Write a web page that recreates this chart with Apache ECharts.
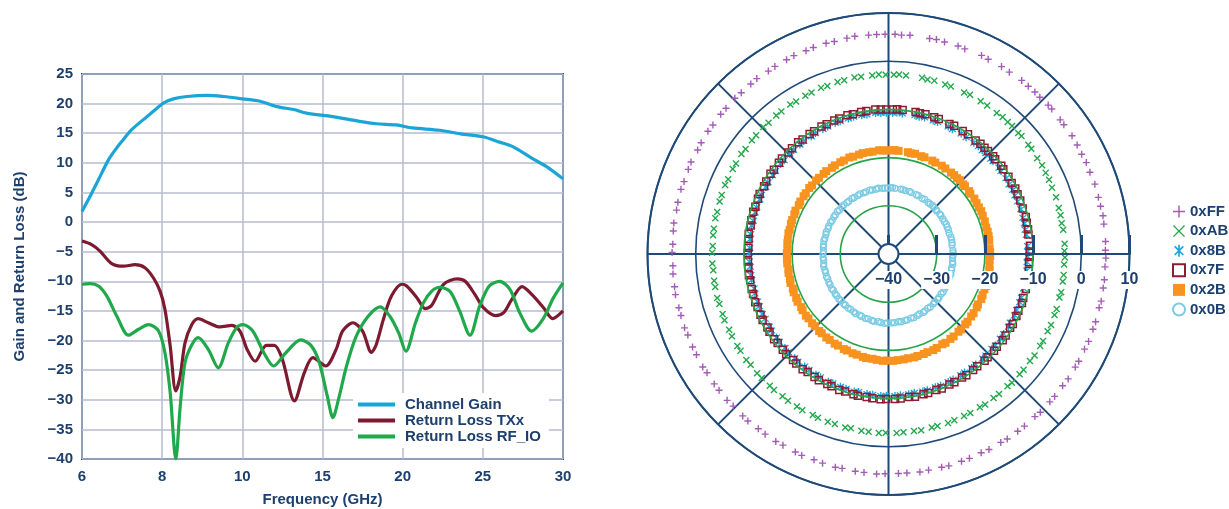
<!DOCTYPE html>
<html><head><meta charset="utf-8">
<script src="https://cdn.jsdelivr.net/npm/echarts@6/dist/echarts.min.js"></script>
<style>html,body{margin:0;padding:0;background:#fff}#c{width:1229px;height:509px}</style>
</head><body><div id="c"></div>
<script>
// ---- Left chart data ----
const xTickFreqs = [6, 8, 10, 15, 20, 25, 30];
const xTickLabels = ['6', '8', '10', '15', '20', '25', '30'];
const lineNames = ['Channel Gain', 'Return Loss TXx', 'Return Loss RF_IO'];

const gainFreq = [6.0,6.16,6.37,6.66,6.83,6.99,7.24,7.53,7.78,8.03,8.28,8.62,9.12,9.53,10.03,11.1,12.15,13.2,14.0,15.65,17.3,18.35,19.6,20.6,22.3,23.6,25.0,26.05,26.9,28.1,28.95,30.0];
const gainDb   = [1.8,3.8,6.6,10.5,12.2,13.6,15.6,17.3,18.7,20.1,20.8,21.2,21.4,21.2,20.8,20.4,19.5,19.0,18.4,17.8,17.0,16.6,16.4,15.9,15.5,14.9,14.4,13.5,12.7,10.7,9.4,7.3];

const txFreq = [6.0,6.24,6.45,6.74,7.03,7.32,7.57,7.78,7.95,8.07,8.2,8.34,8.45,8.57,8.74,8.9,9.15,9.44,9.74,9.94,10.3,10.8,11.5,12.0,12.5,13.25,13.87,14.4,15.2,15.85,16.25,16.9,17.5,18.05,18.35,18.8,19.3,19.95,20.25,20.9,21.4,21.8,22.55,23.4,23.9,24.5,25.05,25.8,26.3,26.8,27.45,28.05,28.8,29.35,30.0];
const txDb   = [-3.2,-3.8,-4.9,-7.0,-7.45,-7.2,-7.7,-9.4,-11.7,-14.75,-20.9,-28.5,-26.0,-20.4,-17.3,-16.3,-17.0,-17.7,-17.45,-18.4,-21.5,-23.5,-20.8,-20.8,-23.2,-30.2,-25.4,-22.9,-24.3,-21.5,-18.4,-17.0,-18.4,-22.0,-20.7,-16.4,-12.5,-10.5,-10.8,-12.8,-14.6,-14.1,-10.5,-9.6,-10.0,-12.2,-14.5,-15.8,-15.3,-13.1,-10.9,-12.2,-14.5,-16.3,-15.0];

const rfFreq = [6.0,6.2,6.41,6.62,6.87,7.16,7.41,7.66,7.91,8.07,8.2,8.34,8.45,8.57,8.74,8.9,9.15,9.4,9.65,9.86,10.05,10.65,11.35,11.95,12.7,13.65,14.3,14.8,15.3,15.65,16.0,16.5,17.1,17.85,18.6,19.2,19.75,20.2,20.8,21.3,21.8,22.3,22.95,23.55,24.2,24.8,25.4,26.05,26.7,27.3,28.05,28.75,29.4,30.0];
const rfDb   = [-10.5,-10.4,-10.8,-12.5,-15.9,-19.1,-18.1,-17.3,-18.4,-22.1,-28.8,-40.0,-31.1,-23.7,-20.7,-19.5,-21.5,-24.6,-20.4,-17.8,-17.3,-18.4,-22.1,-24.3,-22.1,-19.9,-20.9,-23.7,-29.4,-33.0,-29.9,-24.3,-19.3,-15.9,-14.3,-15.9,-18.7,-21.8,-17.0,-13.6,-11.7,-11.0,-11.7,-15.0,-19.1,-14.2,-10.8,-10.0,-11.4,-15.3,-18.4,-16.4,-12.8,-10.25];

// ---- Polar chart data (phase in degrees clockwise from top, magnitude in dB) ----
const stateNames = ['0xFF', '0xAB', '0x8B', '0x7F', '0x2B', '0x0B'];
const phaseDeg = [1.7,3.4,5.6,10.8,12.6,14.8,18.5,20.4,25.1,27.1,31.1,33.6,37.5,39.8,42.1,44.0,47.0,48.4,52.0,53.6,57.2,60.0,62.7,65.2,67.9,71.3,74.9,77.3,79.9,82.1,86.7,89.0,
 91.1,93.4,96.8,99.0,102.5,104.3,108.1,110.2,113.6,115.9,119.4,121.2,124.8,127.1,130.6,132.5,136.2,138.0,141.7,143.9,147.3,149.2,152.8,155.0,158.4,160.6,164.1,166.0,169.5,171.8,175.2,177.4,
 180.9,183.1,186.4,188.7,192.2,194.0,197.5,199.9,203.3,205.2,208.9,211.0,214.4,216.7,220.1,222.0,225.6,227.8,231.2,233.3,236.8,238.7,242.3,244.6,248.0,250.1,253.5,255.6,259.2,261.3,264.7,266.9,
 270.4,272.6,276.1,278.2,281.7,283.8,287.3,289.5,292.9,295.0,298.6,300.7,304.2,306.3,309.8,311.9,315.4,317.6,321.0,323.1,326.7,328.8,332.3,334.5,337.9,340.0,343.5,345.7,349.1,351.2,354.8,356.9,359.1];
const magFF = [5.6,5.5,5.6,5.5,5.6,5.5,5.5,5.4,5.5,5.4,5.4,5.3,5.4,5.3,5.3,5.2,5.3,5.3,5.2,5.2,5.3,5.2,5.1,5.2,5.1,5.2,5.1,5.1,5.2,5.1,5.1,5.0,
 5.1,5.0,5.1,5.1,5.2,5.1,5.2,5.2,5.3,5.2,5.3,5.3,5.4,5.3,5.4,5.4,5.5,5.4,5.5,5.5,5.6,5.5,5.6,5.5,5.6,5.6,5.7,5.6,5.6,5.7,5.6,5.6,
 5.6,5.7,5.6,5.6,5.5,5.6,5.5,5.4,5.5,5.4,5.3,5.4,5.3,5.2,5.3,5.2,5.1,5.2,5.1,5.1,5.0,5.1,5.0,5.0,4.9,5.0,4.9,4.9,5.0,4.9,4.9,4.8,
 4.9,4.8,4.9,5.0,4.9,5.0,5.1,5.0,5.1,5.2,5.1,5.2,5.3,5.2,5.3,5.3,5.4,5.3,5.4,5.5,5.4,5.5,5.5,5.6,5.5,5.6,5.6,5.5,5.6,5.7,5.6,5.6,5.6];
const magAB = [-2.8,-2.7,-2.8,-2.8,-2.9,-2.8,-2.9,-2.9,-3.0,-2.9,-3.0,-3.0,-3.1,-3.0,-3.1,-3.1,-3.2,-3.1,-3.2,-3.2,-3.3,-3.2,-3.3,-3.3,-3.4,-3.3,-3.4,-3.4,-3.5,-3.4,-3.4,-3.5,
 -3.4,-3.5,-3.4,-3.4,-3.3,-3.4,-3.3,-3.3,-3.2,-3.3,-3.2,-3.2,-3.1,-3.2,-3.1,-3.1,-3.0,-3.1,-3.0,-3.0,-2.9,-3.0,-2.9,-2.9,-2.9,-2.8,-2.9,-2.9,-2.8,-2.9,-2.9,-2.8,
 -2.9,-2.8,-2.9,-2.9,-3.0,-2.9,-3.0,-3.0,-3.0,-3.1,-3.0,-3.1,-3.1,-3.2,-3.1,-3.2,-3.2,-3.2,-3.3,-3.2,-3.3,-3.3,-3.3,-3.4,-3.3,-3.4,-3.4,-3.3,-3.4,-3.4,-3.5,-3.4,
 -3.4,-3.5,-3.4,-3.4,-3.3,-3.4,-3.3,-3.3,-3.2,-3.3,-3.2,-3.2,-3.1,-3.2,-3.1,-3.1,-3.0,-3.1,-3.0,-3.0,-2.9,-3.0,-2.9,-2.9,-2.8,-2.9,-2.8,-2.8,-2.7,-2.8,-2.8,-2.7,-2.8];
const mag8B = [-10.7,-10.6,-10.7,-10.7,-10.8,-10.7,-10.8,-10.8,-10.8,-10.9,-10.8,-10.9,-10.9,-10.9,-11.0,-10.9,-11.0,-11.0,-10.9,-11.0,-11.0,-11.1,-11.0,-11.1,-11.1,-11.0,-11.1,-11.1,-11.2,-11.1,-11.1,-11.1,
 -11.1,-11.2,-11.1,-11.1,-11.0,-11.1,-11.0,-11.0,-11.0,-10.9,-11.0,-10.9,-10.9,-10.9,-10.8,-10.9,-10.8,-10.8,-10.8,-10.7,-10.8,-10.7,-10.7,-10.7,-10.6,-10.7,-10.6,-10.6,-10.7,-10.6,-10.6,-10.5,
 -10.6,-10.5,-10.6,-10.6,-10.7,-10.6,-10.7,-10.7,-10.8,-10.7,-10.8,-10.8,-10.8,-10.9,-10.8,-10.9,-10.9,-11.0,-10.9,-11.0,-11.0,-11.0,-11.1,-11.0,-11.1,-11.1,-11.1,-11.2,-11.1,-11.1,-11.2,-11.1,
 -11.1,-11.2,-11.1,-11.1,-11.0,-11.1,-11.0,-11.0,-11.0,-10.9,-11.0,-10.9,-10.9,-10.9,-10.8,-10.9,-10.8,-10.8,-10.8,-10.7,-10.8,-10.7,-10.7,-10.7,-10.6,-10.7,-10.7,-10.6,-10.7,-10.7,-10.6,-10.7,-10.7];
const mag7F = [-10.0,-9.9,-10.0,-10.0,-10.1,-10.0,-10.1,-10.1,-10.2,-10.1,-10.2,-10.2,-10.3,-10.2,-10.3,-10.3,-10.3,-10.4,-10.3,-10.4,-10.4,-10.5,-10.4,-10.5,-10.5,-10.6,-10.5,-10.6,-10.6,-10.7,-10.6,-10.7,
 -10.7,-10.8,-10.7,-10.6,-10.7,-10.6,-10.6,-10.5,-10.6,-10.5,-10.4,-10.5,-10.4,-10.3,-10.4,-10.3,-10.3,-10.2,-10.3,-10.2,-10.1,-10.2,-10.1,-10.1,-10.0,-10.1,-10.0,-10.0,-9.9,-10.0,-9.9,-9.9,
 -9.9,-9.8,-9.9,-10.0,-9.9,-10.0,-10.1,-10.0,-10.1,-10.2,-10.1,-10.2,-10.3,-10.2,-10.3,-10.4,-10.3,-10.4,-10.5,-10.4,-10.5,-10.6,-10.5,-10.6,-10.7,-10.6,-10.7,-10.7,-10.8,-10.7,-10.8,-10.8,
 -10.8,-10.9,-10.8,-10.7,-10.8,-10.7,-10.6,-10.7,-10.6,-10.5,-10.6,-10.5,-10.4,-10.5,-10.4,-10.3,-10.4,-10.3,-10.2,-10.3,-10.2,-10.2,-10.1,-10.2,-10.1,-10.1,-10.0,-10.1,-10.0,-10.0,-9.9,-10.0,-10.0];
const mag2B = [-18.5,-18.4,-18.5,-18.5,-18.6,-18.5,-18.6,-18.6,-18.6,-18.7,-18.6,-18.7,-18.7,-18.7,-18.8,-18.7,-18.8,-18.8,-18.8,-18.9,-18.8,-18.9,-18.9,-18.8,-18.9,-18.9,-19.0,-18.9,-18.9,-18.9,-19.0,-18.9,
 -18.9,-19.0,-18.9,-18.8,-18.9,-18.8,-18.7,-18.8,-18.7,-18.6,-18.7,-18.6,-18.5,-18.5,-18.4,-18.4,-18.3,-18.3,-18.2,-18.2,-18.1,-18.2,-18.1,-18.0,-18.1,-18.0,-18.0,-17.9,-18.0,-17.9,-17.9,-17.8,
 -17.9,-17.8,-17.9,-18.0,-17.9,-18.0,-18.1,-18.1,-18.2,-18.2,-18.3,-18.3,-18.4,-18.4,-18.5,-18.5,-18.6,-18.6,-18.7,-18.6,-18.7,-18.8,-18.7,-18.8,-18.8,-18.9,-18.8,-18.9,-18.9,-19.0,-18.9,-18.9,
 -18.9,-19.0,-18.9,-18.9,-18.8,-18.9,-18.8,-18.8,-18.8,-18.7,-18.8,-18.7,-18.7,-18.7,-18.6,-18.7,-18.6,-18.6,-18.6,-18.5,-18.6,-18.5,-18.5,-18.5,-18.4,-18.5,-18.5,-18.4,-18.5,-18.5,-18.4,-18.5,-18.5];
const mag0B = [-26.3,-26.2,-26.3,-26.3,-26.3,-26.4,-26.3,-26.4,-26.4,-26.4,-26.5,-26.4,-26.5,-26.5,-26.4,-26.5,-26.5,-26.6,-26.5,-26.5,-26.6,-26.6,-26.5,-26.6,-26.6,-26.7,-26.6,-26.6,-26.6,-26.7,-26.6,-26.6,
 -26.6,-26.7,-26.6,-26.5,-26.6,-26.5,-26.4,-26.5,-26.4,-26.3,-26.4,-26.3,-26.2,-26.3,-26.2,-26.1,-26.2,-26.1,-26.0,-26.1,-26.0,-25.9,-26.0,-25.9,-25.8,-25.9,-25.8,-25.8,-25.7,-25.8,-25.7,-25.7,
 -25.7,-25.6,-25.7,-25.8,-25.7,-25.8,-25.9,-25.8,-25.9,-26.0,-25.9,-26.0,-26.1,-26.0,-26.1,-26.1,-26.2,-26.1,-26.2,-26.2,-26.3,-26.2,-26.3,-26.3,-26.4,-26.3,-26.4,-26.4,-26.3,-26.4,-26.5,-26.4,
 -26.4,-26.5,-26.4,-26.4,-26.3,-26.4,-26.4,-26.3,-26.4,-26.3,-26.3,-26.4,-26.3,-26.3,-26.2,-26.3,-26.3,-26.2,-26.3,-26.3,-26.2,-26.3,-26.3,-26.2,-26.3,-26.3,-26.2,-26.3,-26.3,-26.2,-26.3,-26.3,-26.3];
const radiusTicks = [-40, 10];

// ---- helpers ----
const NAVY = '#1c3f6d';
const AXIS = '#1f4a78';
const GRIDC = '#b7bccf';
const GREEN_RING = '#27a348';
const FONT = '"Liberation Sans", Arial, Helvetica, sans-serif';
const minus = v => String(v).replace('-', '\u2212');

// piecewise-linear frequency axis (ticks evenly spaced in the original)
function freqToPos(f) {
  for (let i = 0; i < xTickFreqs.length - 1; i++) {
    if (f <= xTickFreqs[i + 1]) return i + (f - xTickFreqs[i]) / (xTickFreqs[i + 1] - xTickFreqs[i]);
  }
  return xTickFreqs.length - 1;
}
const toXY = (fs, vs) => fs.map((f, i) => [freqToPos(f), vs[i]]);
// compass angle (clockwise from top) -> angle axis value with startAngle 0, clockwise
const toPolar = (mags) => phaseDeg.map((p, i) => [mags[i], (p + 270) % 360]);

const plusPath = 'path://M4,0h2v4h4v2h-4v4h-2v-4h-4v-2h4z';
const xPath = 'path://M0,1.4L1.4,0L5,3.6L8.6,0L10,1.4L6.4,5L10,8.6L8.6,10L5,6.4L1.4,10L0,8.6L3.6,5Z';
const starPath = 'path://M4.3,0h1.4v10h-1.4z M0.9,1.9L1.9,0.9L9.1,8.1L8.1,9.1Z M8.1,0.9L9.1,1.9L1.9,9.1L0.9,8.1Z';
const plusThin = 'path://M4.4,0h1.2v4.4h4.4v1.2h-4.4v4.4h-1.2v-4.4h-4.4v-1.2h4.4z';
const xThin = 'path://M0,0.8L0.8,0L5,4.2L9.2,0L10,0.8L5.8,5L10,9.2L9.2,10L5,5.8L0.8,10L0,9.2L4.2,5Z';

const polarCenter = [888.5, 254];
const polarRadius = 241;

const polarStyles = [
  { symbol: plusPath, size: 7, color: '#a35cb6', icon: plusThin },
  { symbol: xPath, size: 7, color: '#22a84b', icon: xThin },
  { symbol: starPath, size: 8, color: '#1ba5da', icon: starPath },
  { symbol: 'rect', size: 7, color: 'transparent', border: '#8c1c33', bw: 1.5 },
  { symbol: 'rect', size: 8, color: '#f7931e' },
  { symbol: 'circle', size: 6, color: 'transparent', border: '#7ccbe4', bw: 1.3 }
];
const polarMags = [magFF, magAB, mag8B, mag7F, mag2B, mag0B];

const chart = echarts.init(document.getElementById('c'), null, { renderer: 'canvas' });

const lineColors = ['#1aa5d6', '#7e1a30', '#20a94b'];
const lineData = [toXY(gainFreq, gainDb), toXY(txFreq, txDb), toXY(rfFreq, rfDb)];

const series = lineNames.map((n, i) => ({
  name: n, type: 'line', xAxisIndex: 0, yAxisIndex: 0,
  data: lineData[i], showSymbol: false, smooth: 0.3,
  lineStyle: { color: lineColors[i], width: 3.2 }, itemStyle: { color: lineColors[i] },
  z: 3 + i
}));

stateNames.forEach((n, i) => {
  const s = polarStyles[i];
  series.push({
    name: n, type: 'scatter', coordinateSystem: 'polar', polarIndex: 0,
    data: toPolar(polarMags[i]), symbol: s.symbol, symbolSize: s.size,
    itemStyle: { color: s.color, borderColor: s.border || s.color, borderWidth: s.bw || 0, opacity: 1 },
    z: 2
  });
});

const option = {
  animation: false,
  backgroundColor: '#fff',
  textStyle: { fontFamily: FONT },
  grid: { left: 82, top: 74, width: 481, height: 385, show: true, borderColor: AXIS, borderWidth: 2, backgroundColor: 'transparent', containLabel: false, outerBoundsMode: 'none' },
  xAxis: {
    type: 'value', min: 0, max: xTickFreqs.length - 1, interval: 1,
    axisLine: { show: false }, axisTick: { show: false },
    axisLabel: { formatter: v => xTickLabels[Math.round(v)], color: NAVY, fontWeight: 'bold', fontSize: 15, fontFamily: FONT, margin: 10 },
    splitLine: { lineStyle: { color: GRIDC, width: 1.5 } },
    name: 'Frequency (GHz)', nameLocation: 'middle', nameGap: 33,
    nameTextStyle: { color: NAVY, fontWeight: 'bold', fontSize: 15, fontFamily: FONT }
  },
  yAxis: {
    type: 'value', min: -40, max: 25, interval: 5,
    axisLine: { show: false }, axisTick: { show: false },
    axisLabel: { formatter: v => minus(v), color: NAVY, fontWeight: 'bold', fontSize: 15, fontFamily: FONT, margin: 9 },
    splitLine: { lineStyle: { color: GRIDC, width: 1.5 } },
    name: 'Gain and Return Loss (dB)', nameLocation: 'middle', nameGap: 55,
    nameTextStyle: { color: NAVY, fontWeight: 'bold', fontSize: 15, fontFamily: FONT }
  },
  polar: { center: polarCenter, radius: polarRadius },
  angleAxis: {
    type: 'value', min: 0, max: 360, interval: 45, startAngle: 0, clockwise: true,
    axisLine: { lineStyle: { color: AXIS, width: 2 } },
    axisTick: { show: false }, axisLabel: { show: false },
    splitLine: { show: true, lineStyle: { color: AXIS, width: 2 } },
    z: 1
  },
  radiusAxis: {
    type: 'value', min: radiusTicks[0], max: radiusTicks[1], interval: 10,
    axisLine: { lineStyle: { color: AXIS, width: 2 } },
    axisTick: { show: true, length: 19, lineStyle: { color: AXIS, width: 3 } },
    axisLabel: { formatter: v => minus(v), color: NAVY, fontWeight: 'bold', fontSize: 16, fontFamily: FONT, backgroundColor: '#fff', padding: [1, 2], margin: -26, verticalAlign: 'middle' },
    splitLine: { show: true, lineStyle: { color: [AXIS, GREEN_RING, GREEN_RING, GREEN_RING, AXIS, AXIS], width: 1.6 } },
    z: 3
  },
  legend: [
    {
      data: lineNames, orient: 'vertical', left: 353, top: 393,
      backgroundColor: '#fff', padding: [4, 8, 4, 5], itemGap: 1,
      icon: 'rect', itemWidth: 37, itemHeight: 4,
      textStyle: { color: NAVY, fontWeight: 'bold', fontSize: 15, fontFamily: FONT, padding: [0, 0, 0, 5] }
    },
    {
      data: stateNames.map((n, i) => polarStyles[i].icon ? { name: n, icon: polarStyles[i].icon } : { name: n }),
      orient: 'vertical', left: 1172, top: 204, padding: 0, itemGap: 4.6,
      itemWidth: 12, itemHeight: 12,
      textStyle: { color: NAVY, fontWeight: 'bold', fontSize: 15, fontFamily: FONT }
    }
  ],
  graphic: [{
    type: 'circle', shape: { cx: polarCenter[0], cy: polarCenter[1], r: 10 },
    style: { fill: '#fff', stroke: AXIS, lineWidth: 2 }, z: 100
  }],
  series: series
};
chart.setOption(option);
</script>
</body></html>
